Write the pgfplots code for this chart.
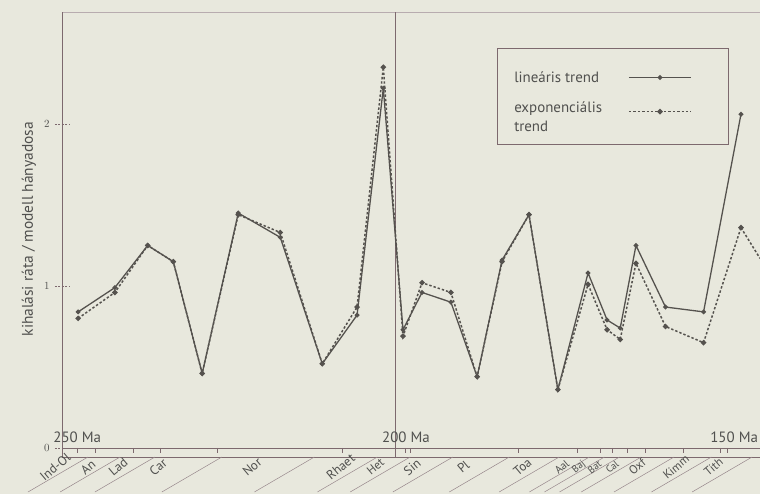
\documentclass[border=0pt]{standalone}
\usepackage{pgfplots}
\pgfplotsset{compat=1.18}
\usepackage{fontspec}
\setmainfont{PT Sans}
\definecolor{bg}{RGB}{232,232,221}
\definecolor{ln}{RGB}{85,82,78}
\definecolor{ax}{RGB}{125,105,110}
\definecolor{tx}{RGB}{80,80,78}
\begin{document}
\begin{tikzpicture}[x=1bp,y=1bp]
\fill[bg] (0,0) rectangle (760,494);
\useasboundingbox (0,0) rectangle (760,494);
\begin{axis}[
  at={(62bp,37bp)}, anchor=south west, scale only axis,
  width=698bp, height=445bp,
  x dir=reverse, xmin=144.4, xmax=250.76, ymin=-0.0556, ymax=2.691,
  axis line style={draw=none},
  clip=false,
  xtick=\empty,
  ytick={0,1,2},
  ytick pos=left,
  tick align=center,
  major tick length=14bp,
  ytick style={draw=ax, line width=0.6pt, dash pattern=on 2pt off 1.5pt},
  yticklabel style={font=\fontsize{11}{12}\selectfont, text=tx, xshift=-2bp},
  legend style={at={(rel axis cs:0.623,0.919)}, anchor=north west, draw=ax,
    line width=0.8pt, fill=none, font=\fontsize{15}{19}\selectfont, text=tx,
    inner xsep=15bp, inner ysep=21bp, row sep=14bp},
  legend plot pos=right,
  legend cell align=left,
  legend image code/.code={\draw[mark repeat=2,mark phase=2,#1] plot coordinates {(0bp,0bp) (31bp,0bp) (62bp,0bp)};\path (84bp,0bp);},
]
% axis frame lines
\draw[ax!55, line width=0.9pt] (rel axis cs:0,1) -- (rel axis cs:1,1);
\draw[ax, line width=0.8pt] (rel axis cs:0,0) -- (rel axis cs:0,1);
\draw[ax, line width=0.8pt] (rel axis cs:0,0) -- (rel axis cs:1,0);
\draw[ax, line width=0.6pt] (axis cs:250.76,0) -- (axis cs:144.4,0);
\draw[ax, line width=0.8pt] (axis cs:200,-0.0556) -- (axis cs:200,2.691);
% small ticks
\pgfplotsinvokeforeach{248.5,245.7,239.9,235.8,227.1,208.1,198.5,197.7,181.3,172.3,168.8,166.9,164.6,161.9,156.1,150.5,149.4}{
  \draw[ax, line width=0.5pt] (axis cs:#1,0) -- (axis cs:#1,-0.03);
}
% slanted stage dividers
\pgfplotsinvokeforeach{246.8,241.9,236.6,226.4,212.3,202.7,197.7,191.2,182.6,175.0,170.4,168.1,165.8,162.5,157.5,151.8,145.6}{
  \draw[ax!80, line width=0.5pt] (axis cs:#1,-0.0556) -- ++(-60bp,-35bp);
}
\addplot[ln, line width=1.3pt, mark=*, mark size=1.7pt]
 coordinates {(248.3,0.84)(242.7,0.99)(237.7,1.25)(233.8,1.15)(229.4,0.46)(223.9,1.45)(217.5,1.30)(211.1,0.52)(205.8,0.82)(201.8,2.22)(198.8,0.73)(195.9,0.96)(191.5,0.90)(187.5,0.44)(183.7,1.16)(179.6,1.44)(175.2,0.36)(170.6,1.08)(167.7,0.79)(165.7,0.74)(163.3,1.25)(158.8,0.87)(153.0,0.84)(147.3,2.06)};
\addlegendentry{\makebox[112bp][l]{lineáris trend}}
\addplot[ln, line width=1.5pt, dash pattern=on 2.4pt off 2pt, mark=*, mark size=1.9pt, mark options={solid}]
 coordinates {(248.3,0.80)(242.7,0.96)(237.7,1.25)(233.8,1.15)(229.4,0.46)(223.9,1.44)(217.5,1.33)(211.1,0.52)(205.8,0.87)(201.8,2.35)(198.8,0.69)(195.9,1.02)(191.5,0.96)(187.5,0.44)(183.7,1.15)(179.6,1.44)(175.2,0.36)(170.6,1.01)(167.7,0.73)(165.7,0.67)(163.3,1.14)(158.8,0.75)(153.0,0.65)(147.3,1.36)};
\addlegendentry{\parbox[c]{112bp}{exponenciális\\trend}}
\addplot[ln, line width=1.5pt, dash pattern=on 2.4pt off 2pt, no marks, forget plot]
 coordinates {(147.3,1.36)(144.4,1.17)};
% age labels
\node[anchor=base west, font=\fontsize{15}{17}\selectfont, text=tx, inner sep=0pt] at (axis cs:252.1,0.031) {250 Ma};
\node[anchor=base west, font=\fontsize{15}{17}\selectfont, text=tx, inner sep=0pt] at (axis cs:202.0,0.031) {200 Ma};
\node[anchor=base west, font=\fontsize{15}{17}\selectfont, text=tx, inner sep=0pt] at (axis cs:152.0,0.031) {150 Ma};
% y label
\node[rotate=90, font=\fontsize{15.5}{17}\selectfont, text=tx] at ([xshift=-33bp]rel axis cs:0,0.512) {kihalási ráta / modell hányadosa};
% stage labels
\foreach \m/\s/\f in {251.8/Ind-Ol/13,246.8/An/13,242.2/Lad/13,236.1/Car/13,221.8/Nor/13,208.3/Rhaet/13,203.0/Het/12,197.4/Sin/13,189.6/Pl/13,180.6/Toa/13,174.6/Aal/11,172.0/Baj/10,169.6/Bat/10,166.9/Cal/10,163.1/Oxf/12,157.2/Kimm/12,151.5/Tith/12}{
  \edef\temp{\noexpand\node[rotate=40, font=\noexpand\fontsize{\f}{14}\noexpand\selectfont, text=tx, inner sep=0pt] at (axis cs:\m,-0.117) {\s};}
  \temp
}
\end{axis}
\end{tikzpicture}
\end{document}
